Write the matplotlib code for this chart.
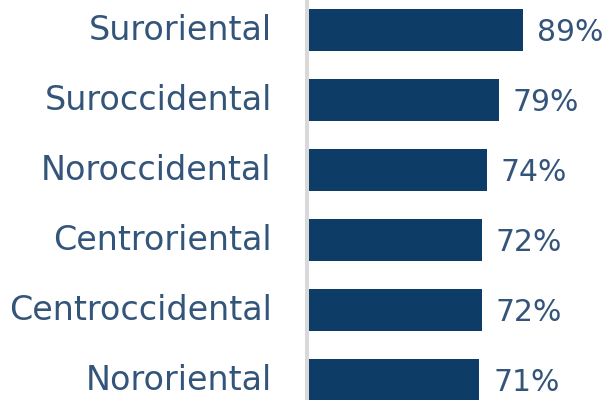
import matplotlib.pyplot as plt

regions = ["Suroriental", "Suroccidental", "Noroccidental",
           "Centroriental", "Centroccidental", "Nororiental"]
values = [89, 79, 74, 72, 72, 71]

BAR = "#0d3d66"
TXT = "#34557a"

fig = plt.figure(figsize=(6.05, 4.0), dpi=100)
# axes starts at the grey divider (x=305px); bars start at 309px
ax = fig.add_axes([305 / 605, 0, 1 - 305 / 605, 1])

px = 2.4  # pixels per percent
x0 = -4 / px
ax.set_xlim(x0, x0 + 300 / px)
ax.set_ylim(370 / 70, -30 / 70)

pos = list(range(len(regions)))
ax.barh(pos, values, height=0.6, color=BAR)
ax.axvspan(x0, 0, color="#d9d9d9", lw=0)

for p, v in zip(pos, values):
    ax.text(v + 14 / px, p + 0.03, f"{v}%", va="center", ha="left",
            fontsize=21.5, color=TXT)

ax.set_yticks(pos)
ax.set_yticklabels(regions, fontsize=24, color=TXT)
for lbl in ax.get_yticklabels():
    lbl.set_verticalalignment("center")
ax.tick_params(axis="y", length=0, pad=24)
ax.set_xticks([])
for s in ax.spines.values():
    s.set_visible(False)

fig.savefig("out.png", dpi=100)
